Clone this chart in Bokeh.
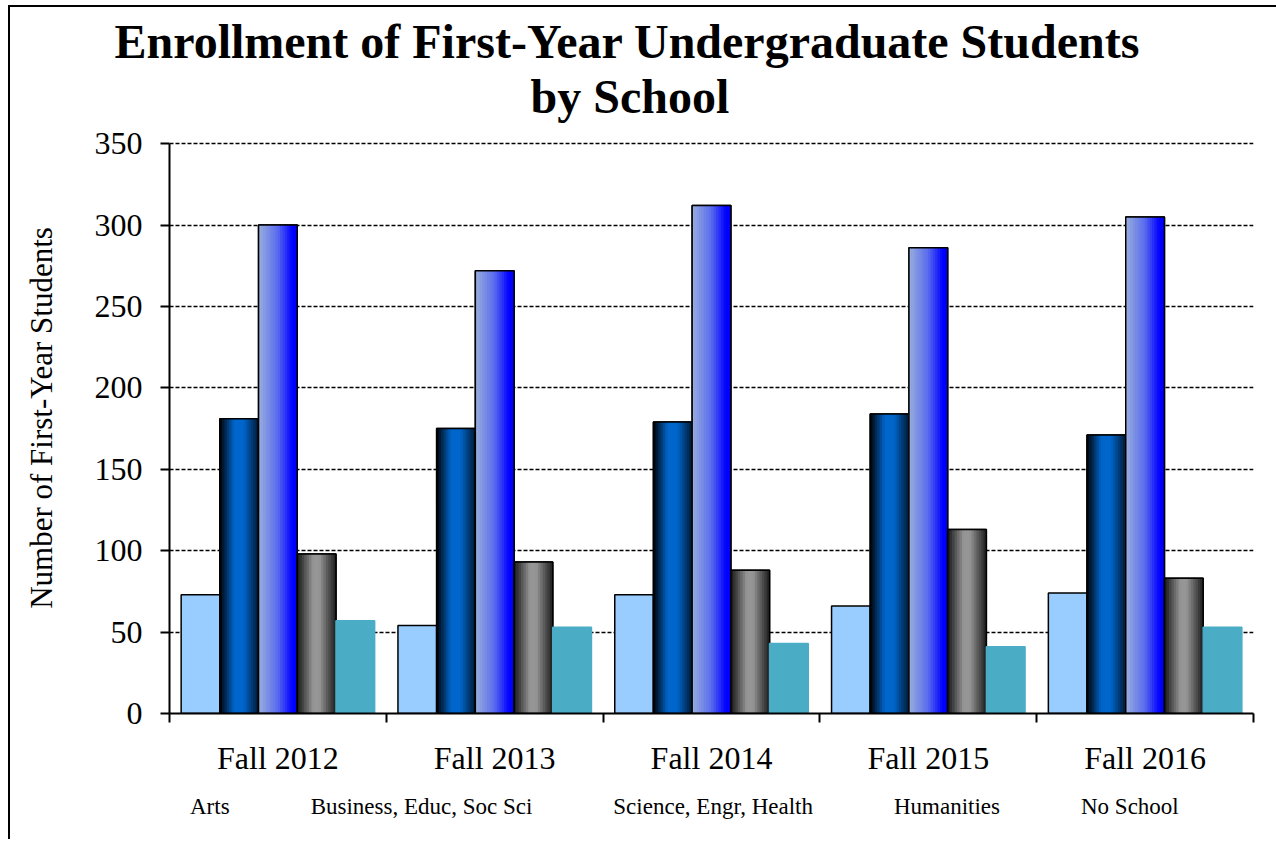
import numpy as np
from bokeh.plotting import figure
from bokeh.layouts import column
from bokeh.models import (ColumnDataSource, Range1d, LinearAxis,
                          FixedTicker, Legend, LegendItem, Title)
from bokeh.transform import dodge
from bokeh.embed import file_html
from bokeh.resources import INLINE

# ---- data ----
years = ["Fall 2012", "Fall 2013", "Fall 2014", "Fall 2015", "Fall 2016"]
arts = [73, 54, 73, 66, 74]
business = [181, 175, 179, 184, 171]
science = [300, 272, 312, 286, 305]
humanities = [98, 93, 88, 113, 83]
no_school = [57, 53, 43, 41, 53]
series_labels = ["Arts", "Business, Educ, Soc Sci", "Science, Engr, Health", "Humanities", "No School"]
y_ticks = [0, 50, 100, 150, 200, 250, 300, 350]

FONT = "Liberation Serif"

group_centers = [i + 0.5 for i in range(len(years))]
src = ColumnDataSource(dict(xc=group_centers, year=years, arts=arts, business=business, science=science,
                            humanities=humanities, no_school=no_school))
# empty source with the same columns: legend swatches only
legend_src = ColumnDataSource({k: [] for k in src.data})

# headroom above the 350 line leaves space between the plot and the title lines
p = figure(width=1266, height=772,
           x_range=Range1d(0, len(years)),
           y_range=Range1d(0, 363),
           output_backend="svg", toolbar_location=None,
           x_axis_location=None,
           min_border_left=159, min_border_right=23, min_border_top=115, min_border_bottom=66,
           outline_line_color=None)

# y axis
ya = p.yaxis[0]
ya.bounds = (0, 350)
ya.ticker = FixedTicker(ticks=y_ticks)
ya.major_label_text_font = FONT
ya.major_label_text_font_size = "32px"
ya.major_label_text_color = "black"
ya.major_label_standoff = 18
ya.major_tick_out = 9
ya.major_tick_in = 0
ya.major_tick_line_width = 2
ya.minor_tick_line_color = None
ya.axis_line_width = 2
ya.axis_line_color = "black"
ya.major_tick_line_color = "black"
ya.axis_label = "Number of First-Year Students"
ya.axis_label_text_font = FONT
ya.axis_label_text_font_size = "31px"
ya.axis_label_text_font_style = "normal"
ya.axis_label_text_color = "black"
ya.axis_label_standoff = 33

p.ygrid.grid_line_color = "black"
p.ygrid.grid_line_dash = "4 2"
p.ygrid.grid_line_width = 1.5
p.xgrid.grid_line_color = None

# x axis: boundary ticks + category labels
tick_axis = LinearAxis(ticker=FixedTicker(ticks=list(range(len(years) + 1))),
                       major_label_text_font_size="1px", major_label_text_color=None,
                       major_tick_out=9, major_tick_in=0, major_tick_line_width=2,
                       minor_tick_line_color=None, axis_line_width=2, major_label_standoff=0)
p.add_layout(tick_axis, "below")
label_axis = LinearAxis(ticker=FixedTicker(ticks=group_centers),
                        major_label_overrides={c: y for c, y in zip(group_centers, years)},
                        axis_line_color=None, major_tick_line_color=None, minor_tick_line_color=None,
                        major_tick_out=0, major_tick_in=0,
                        major_label_text_font=FONT, major_label_text_font_size="32px",
                        major_label_text_color="black", major_label_standoff=17)
p.add_layout(label_axis, "below")

# legend strip: a second figure sharing the x range
pl = figure(width=1266, height=60, x_range=p.x_range, y_range=Range1d(0, 1),
            output_backend="svg", toolbar_location=None,
            x_axis_location=None, y_axis_location=None,
            min_border_left=159, min_border_right=23, min_border_top=0, min_border_bottom=0,
            outline_line_color=None)
pl.xgrid.grid_line_color = None
pl.ygrid.grid_line_color = None

# bars
W = 0.1785
offsets = [-2 * W, -1 * W, 0.0, 1 * W, 2 * W]


def grad(stops, n):
    pos = np.array([s[0] for s in stops])
    cols = np.array([[int(s[1][i:i + 2], 16) for i in (1, 3, 5)] for s in stops], dtype=float)
    out = []
    for k in range(n):
        t = (k + 0.5) / n
        rgb = [int(round(np.interp(t, pos, cols[:, c]))) for c in range(3)]
        out.append("#%02x%02x%02x" % tuple(rgb))
    return out


N = 16
styles = [
    ("arts", "#99CCFF", None, "black"),
    ("business", "#0066CC", [(0, "#000000"), (0.38, "#0066CC"), (0.62, "#0066CC"), (1.0, "#001a36")], "black"),
    ("science", "#4A5CF0", [(0, "#9AB0DC"), (0.5, "#5A6CEE"), (0.88, "#0000FF"), (1.0, "#0000FF")], "black"),
    ("humanities", "#909090", [(0, "#141414"), (0.42, "#969696"), (0.58, "#969696"), (1.0, "#1e1e1e")], "black"),
    ("no_school", "#4BACC6", None, "#4BACC6"),
]

items = []
for (col, base, stops, lc), off, lab in zip(styles, offsets, series_labels):
    p.vbar(x=dodge("xc", off), top=col, bottom=0, width=W, source=src,
           fill_color=base, line_color=lc, line_width=1.5)
    if stops is not None:
        cols = grad(stops, N)
        for i, c in enumerate(cols):
            so = off - W / 2 + (i + 0.5) * W / N
            p.vbar(x=dodge("xc", so), top=col, bottom=0, width=W / N * 1.25,
                   source=src, fill_color=c, line_color=None)
        p.vbar(x=dodge("xc", off), top=col, bottom=0, width=W, source=src,
               fill_color=None, line_color=lc, line_width=1.5)
    rl = pl.vbar(x=dodge("xc", off), top=col, bottom=0, width=W, source=legend_src,
                 fill_color=base, line_color=lc, line_width=1.5)
    items.append(LegendItem(label=lab, renderers=[rl]))

legend = Legend(items=items, orientation="horizontal", location=(4, 19), spacing=64,
                glyph_width=12, glyph_height=14, label_standoff=5,
                label_text_font=FONT, label_text_font_size="23px", label_text_color="black",
                padding=0, margin=0, border_line_color=None, background_fill_alpha=0)
pl.add_layout(legend, "center")

# titles (second line first: it sits nearest the plot)
p.add_layout(Title(text="by School", align="left", offset=361, text_font=FONT,
                   text_font_style="bold", text_font_size="48px", text_color="black", standoff=0), "above")
p.add_layout(Title(text="Enrollment of First-Year Undergraduate Students", align="left", offset=-55,
                   text_font=FONT, text_font_style="bold", text_font_size="48px", text_color="black",
                   standoff=0), "above")

layout = column(p, pl, spacing=0,
                styles={"margin-left": "8px", "margin-top": "5px",
                        "border-left": "2px solid black", "border-top": "2px solid black"})

open("out.html", "w").write(file_html(layout, INLINE))
